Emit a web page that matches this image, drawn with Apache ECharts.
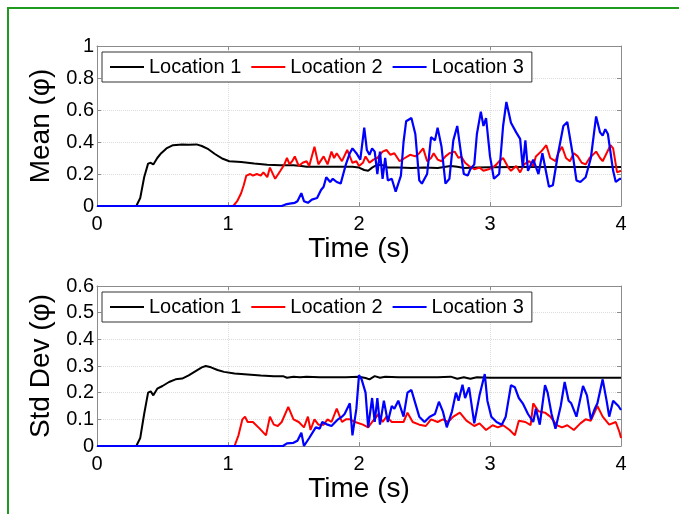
<!DOCTYPE html>
<html>
<head>
<meta charset="utf-8">
<script src="https://cdn.jsdelivr.net/npm/echarts@6/dist/echarts.min.js"></script>
<style>
  html, body { margin: 0; padding: 0; background: #fff; }
  #chart { width: 679px; height: 514px; }
</style>
</head>
<body>
<div id="chart"></div>
<script>
// series names
const names = ["Location 1", "Location 2", "Location 3"];
const xTicks = [0, 1, 2, 3, 4];

// mean concentration, [time (s), value]
const mean1 = [[0,0],[0.3,0],[0.33,0.05],[0.36,0.18],[0.39,0.265],[0.41,0.27],[0.43,0.26],[0.46,0.3],[0.49,0.33],[0.53,0.36],[0.58,0.38],[0.65,0.385],[0.7,0.383],[0.76,0.385],[0.8,0.375],[0.85,0.355],[0.9,0.325],[0.96,0.295],[1.01,0.28],[1.1,0.275],[1.2,0.265],[1.3,0.258],[1.4,0.255],[1.5,0.255],[1.56,0.25],[1.6,0.245],[1.8,0.245],[1.95,0.245],[2.0,0.24],[2.04,0.225],[2.07,0.22],[2.1,0.24],[2.14,0.258],[2.18,0.255],[2.22,0.24],[2.3,0.24],[2.4,0.237],[2.5,0.24],[2.6,0.238],[2.7,0.25],[2.75,0.245],[2.8,0.238],[2.9,0.24],[3.0,0.242],[3.2,0.243],[3.4,0.243],[3.6,0.243],[3.8,0.243],[4,0.243]];
const mean2 = [[0,0],[1.04,0],[1.07,0.03],[1.1,0.08],[1.12,0.13],[1.14,0.19],[1.17,0.2],[1.19,0.19],[1.22,0.2],[1.25,0.19],[1.27,0.21],[1.3,0.18],[1.32,0.24],[1.36,0.17],[1.4,0.22],[1.43,0.26],[1.45,0.3],[1.47,0.26],[1.49,0.28],[1.51,0.31],[1.54,0.25],[1.57,0.27],[1.6,0.28],[1.62,0.25],[1.66,0.37],[1.69,0.26],[1.73,0.31],[1.76,0.26],[1.79,0.34],[1.81,0.3],[1.83,0.33],[1.87,0.28],[1.91,0.35],[1.93,0.31],[1.95,0.27],[1.98,0.28],[2.0,0.25],[2.03,0.27],[2.05,0.31],[2.08,0.27],[2.11,0.29],[2.14,0.3],[2.18,0.34],[2.21,0.35],[2.24,0.32],[2.27,0.33],[2.31,0.28],[2.35,0.3],[2.39,0.32],[2.43,0.31],[2.46,0.33],[2.49,0.36],[2.52,0.28],[2.55,0.3],[2.57,0.33],[2.6,0.29],[2.63,0.28],[2.66,0.31],[2.69,0.33],[2.73,0.34],[2.76,0.3],[2.78,0.31],[2.81,0.27],[2.84,0.25],[2.88,0.23],[2.92,0.24],[2.95,0.22],[2.99,0.23],[3.02,0.24],[3.05,0.26],[3.07,0.28],[3.1,0.3],[3.12,0.27],[3.14,0.24],[3.16,0.22],[3.2,0.25],[3.23,0.21],[3.26,0.26],[3.3,0.28],[3.33,0.25],[3.35,0.31],[3.39,0.34],[3.43,0.38],[3.46,0.3],[3.5,0.28],[3.52,0.33],[3.55,0.37],[3.58,0.3],[3.61,0.28],[3.64,0.33],[3.67,0.31],[3.7,0.27],[3.73,0.26],[3.76,0.3],[3.81,0.34],[3.84,0.3],[3.86,0.28],[3.89,0.33],[3.92,0.38],[3.94,0.36],[3.96,0.26],[3.97,0.21],[4.0,0.22]];
const mean3 = [[0,0],[1.41,0],[1.44,0.01],[1.47,0.015],[1.51,0.02],[1.53,0.03],[1.56,0.08],[1.58,0.03],[1.61,0.02],[1.64,0.04],[1.68,0.05],[1.71,0.1],[1.73,0.12],[1.75,0.18],[1.78,0.15],[1.8,0.17],[1.83,0.15],[1.86,0.14],[1.88,0.2],[1.9,0.26],[1.93,0.33],[1.95,0.36],[1.98,0.33],[2.01,0.29],[2.04,0.49],[2.06,0.35],[2.08,0.32],[2.1,0.36],[2.12,0.34],[2.14,0.2],[2.16,0.34],[2.18,0.17],[2.2,0.3],[2.22,0.16],[2.25,0.17],[2.28,0.09],[2.32,0.19],[2.34,0.4],[2.36,0.53],[2.4,0.55],[2.43,0.45],[2.46,0.16],[2.48,0.14],[2.52,0.2],[2.55,0.43],[2.58,0.41],[2.6,0.49],[2.63,0.37],[2.66,0.14],[2.69,0.17],[2.72,0.41],[2.75,0.5],[2.77,0.38],[2.8,0.2],[2.83,0.19],[2.85,0.23],[2.88,0.26],[2.9,0.45],[2.93,0.59],[2.95,0.5],[2.97,0.55],[3.0,0.31],[3.03,0.17],[3.07,0.2],[3.1,0.5],[3.125,0.65],[3.16,0.52],[3.2,0.46],[3.23,0.42],[3.25,0.24],[3.27,0.41],[3.29,0.22],[3.33,0.29],[3.37,0.2],[3.4,0.33],[3.45,0.12],[3.48,0.13],[3.52,0.33],[3.56,0.5],[3.59,0.525],[3.63,0.33],[3.66,0.16],[3.69,0.15],[3.73,0.18],[3.77,0.3],[3.81,0.56],[3.84,0.46],[3.86,0.44],[3.88,0.48],[3.9,0.45],[3.94,0.22],[3.96,0.15],[3.99,0.17],[4.0,0.17]];

// standard deviation, [time (s), value]
const std1 = [[0,0],[0.3,0],[0.33,0.03],[0.36,0.12],[0.39,0.2],[0.41,0.205],[0.43,0.19],[0.46,0.215],[0.5,0.225],[0.55,0.24],[0.6,0.25],[0.65,0.253],[0.7,0.265],[0.75,0.28],[0.8,0.295],[0.83,0.3],[0.87,0.295],[0.92,0.285],[0.97,0.278],[1.05,0.272],[1.15,0.268],[1.25,0.264],[1.35,0.262],[1.42,0.262],[1.45,0.256],[1.5,0.26],[1.55,0.258],[1.6,0.26],[1.7,0.258],[1.8,0.258],[1.9,0.258],[2.0,0.26],[2.05,0.255],[2.08,0.25],[2.12,0.262],[2.16,0.256],[2.2,0.26],[2.3,0.258],[2.4,0.258],[2.5,0.258],[2.6,0.258],[2.7,0.26],[2.75,0.252],[2.8,0.258],[2.85,0.252],[2.9,0.258],[3.0,0.256],[3.2,0.256],[3.4,0.256],[3.6,0.256],[3.8,0.256],[4,0.256]];
const std2 = [[0,0],[1.05,0],[1.08,0.04],[1.11,0.1],[1.13,0.11],[1.15,0.09],[1.19,0.09],[1.24,0.066],[1.29,0.04],[1.32,0.11],[1.35,0.08],[1.38,0.075],[1.41,0.09],[1.46,0.147],[1.5,0.1],[1.54,0.09],[1.58,0.07],[1.61,0.11],[1.63,0.06],[1.66,0.1],[1.69,0.08],[1.73,0.08],[1.76,0.1],[1.79,0.09],[1.83,0.14],[1.87,0.09],[1.9,0.1],[1.93,0.1],[1.97,0.09],[2.03,0.08],[2.07,0.07],[2.1,0.09],[2.15,0.12],[2.18,0.09],[2.21,0.11],[2.25,0.09],[2.3,0.09],[2.34,0.09],[2.37,0.125],[2.41,0.09],[2.46,0.08],[2.51,0.075],[2.55,0.1],[2.6,0.09],[2.64,0.1],[2.68,0.09],[2.72,0.11],[2.77,0.125],[2.82,0.095],[2.88,0.075],[2.92,0.085],[2.97,0.06],[3.02,0.078],[3.06,0.07],[3.1,0.078],[3.15,0.06],[3.19,0.04],[3.22,0.095],[3.27,0.09],[3.31,0.078],[3.33,0.16],[3.37,0.13],[3.42,0.125],[3.46,0.11],[3.51,0.078],[3.55,0.07],[3.59,0.078],[3.64,0.06],[3.69,0.085],[3.73,0.1],[3.77,0.095],[3.82,0.15],[3.86,0.11],[3.91,0.08],[3.96,0.09],[3.99,0.05],[4.0,0.03]];
const std3 = [[0,0],[1.42,0],[1.45,0.01],[1.5,0.012],[1.53,0.02],[1.56,0.05],[1.58,0.0],[1.62,0.03],[1.67,0.07],[1.7,0.065],[1.72,0.09],[1.76,0.08],[1.79,0.075],[1.84,0.1],[1.87,0.11],[1.89,0.12],[1.93,0.16],[1.95,0.04],[1.98,0.14],[2.0,0.266],[2.02,0.25],[2.05,0.2],[2.07,0.07],[2.1,0.18],[2.12,0.09],[2.14,0.18],[2.16,0.08],[2.19,0.17],[2.22,0.09],[2.25,0.15],[2.27,0.14],[2.3,0.17],[2.34,0.11],[2.37,0.2],[2.4,0.21],[2.43,0.16],[2.46,0.11],[2.5,0.09],[2.54,0.11],[2.58,0.12],[2.61,0.166],[2.64,0.13],[2.67,0.07],[2.71,0.13],[2.74,0.2],[2.76,0.17],[2.79,0.23],[2.81,0.18],[2.84,0.22],[2.88,0.085],[2.92,0.19],[2.96,0.27],[2.98,0.17],[3.01,0.11],[3.05,0.09],[3.09,0.08],[3.12,0.11],[3.16,0.228],[3.19,0.22],[3.22,0.18],[3.25,0.16],[3.29,0.12],[3.33,0.09],[3.35,0.14],[3.38,0.08],[3.42,0.228],[3.44,0.2],[3.47,0.12],[3.5,0.065],[3.54,0.15],[3.57,0.24],[3.6,0.17],[3.62,0.16],[3.66,0.11],[3.71,0.225],[3.74,0.19],[3.77,0.1],[3.8,0.14],[3.82,0.16],[3.86,0.25],[3.89,0.17],[3.91,0.11],[3.94,0.17],[3.98,0.15],[4.0,0.135]];

const colors = ["#000000", "#ff0000", "#0000ff"];
const font = "Liberation Sans, Arial, sans-serif";
const frameColor = "#8c8c8c";

const xAxisFor = (gi, pos) => ({
  type: "value",
  gridIndex: gi,
  position: pos,
  min: xTicks[0],
  max: xTicks[xTicks.length - 1],
  interval: 1,
  name: pos === "bottom" ? "Time (s)" : "",
  nameLocation: "middle",
  nameGap: 24,
  nameTextStyle: { fontSize: 28, color: "#000", fontFamily: font },
  axisLine: { show: true, onZero: false, lineStyle: { color: frameColor } },
  axisTick: { show: true, inside: true, length: 4, lineStyle: { color: frameColor } },
  axisLabel: {
    show: pos === "bottom",
    fontSize: 20, color: "#000", fontFamily: font, margin: 8,
  },
  splitLine: {
    show: pos === "bottom",
    lineStyle: { color: "#dcdcdc", type: "dotted" },
  },
});

const yAxisFor = (gi, pos, max, step, title) => ({
  type: "value",
  gridIndex: gi,
  position: pos,
  min: 0,
  max: max,
  interval: step,
  name: pos === "left" ? title : "",
  nameLocation: "middle",
  nameGap: 40,
  nameTextStyle: { fontSize: 28, color: "#000", fontFamily: font },
  axisLine: { show: true, onZero: false, lineStyle: { color: frameColor } },
  axisTick: { show: true, inside: true, length: 4, lineStyle: { color: frameColor } },
  axisLabel: {
    show: pos === "left",
    fontSize: 20, color: "#000", fontFamily: font, margin: 3,
  },
  splitLine: {
    show: pos === "left",
    lineStyle: { color: "#dcdcdc", type: "dotted" },
  },
});

const legendFor = (top) => ({
  data: names.map((n) => ({ name: n, icon: "rect" })),
  left: 102,
  top: top,
  orient: "horizontal",
  padding: [5, 8, 5, 8],
  itemGap: 10,
  itemWidth: 34,
  itemHeight: 2,
  backgroundColor: "#fff",
  borderColor: "#333",
  borderWidth: 1,
  borderRadius: 0,
  selectedMode: false,
  textStyle: { fontSize: 20, lineHeight: 20, color: "#000", fontFamily: font },
});

const lineSeries = (name, data, idx, axisIdx) => ({
  name: name,
  type: "line",
  data: data,
  xAxisIndex: axisIdx,
  yAxisIndex: axisIdx,
  symbol: "none",
  animation: false,
  lineStyle: { color: colors[idx], width: idx === 2 ? 2.2 : 2 },
  itemStyle: { color: colors[idx] },
});

const option = {
  backgroundColor: "#fff",
  animation: false,
  graphic: [
    {
      type: "rect",
      shape: { x: 8, y: 8, width: 720, height: 560 },
      style: { fill: null, stroke: "#1f9a1f", lineWidth: 2 },
      silent: true,
    },
  ],
  grid: [
    { left: 97, top: 46, width: 524, height: 160 },
    { left: 97, top: 286, width: 524, height: 160 },
  ],
  legend: [legendFor(52), legendFor(292)],
  xAxis: [
    xAxisFor(0, "bottom"), xAxisFor(1, "bottom"),
    xAxisFor(0, "top"), xAxisFor(1, "top"),
  ],
  yAxis: [
    yAxisFor(0, "left", 1, 0.2, "Mean (\u03c6)"),
    yAxisFor(1, "left", 0.6, 0.1, "Std Dev (\u03c6)"),
    yAxisFor(0, "right", 1, 0.2, ""),
    yAxisFor(1, "right", 0.6, 0.1, ""),
  ],
  series: [
    lineSeries(names[0], mean1, 0, 0),
    lineSeries(names[1], mean2, 1, 0),
    lineSeries(names[2], mean3, 2, 0),
    lineSeries(names[0], std1, 0, 1),
    lineSeries(names[1], std2, 1, 1),
    lineSeries(names[2], std3, 2, 1),
  ],
};

var myChart = echarts.init(document.getElementById("chart"));
myChart.setOption(option);
</script>
</body>
</html>
